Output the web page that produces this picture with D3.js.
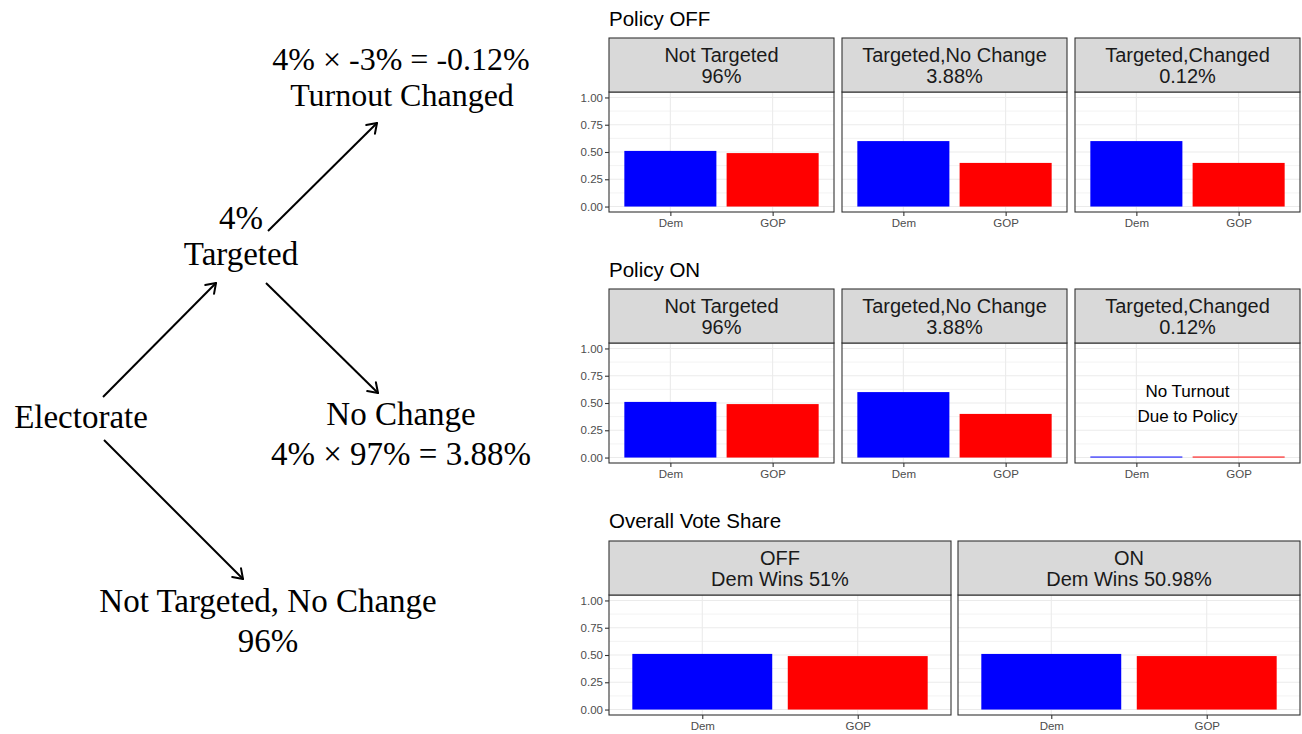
<!DOCTYPE html>
<html>
<head>
<meta charset="utf-8">
<title>Turnout targeting and vote share</title>
<script src="https://cdn.jsdelivr.net/npm/d3@7/dist/d3.min.js"></script>
<style>
  body { margin: 0; background: #fff; }
  .tree text { font-family: "Liberation Serif", "DejaVu Serif", serif; font-size: 33px; fill: #000; }
  .facet text { font-family: "Liberation Sans", Arial, sans-serif; }
</style>
</head>
<body>
<script>
// ---- data ----
var parties = ["Dem", "GOP"];
var partyColors = ["#0000FF", "#FF0000"];
var yTicks = [0, 0.25, 0.5, 0.75, 1];
var yMinor = [0.125, 0.375, 0.625, 0.875];

var groupNames = ["Not Targeted", "Targeted,No Change", "Targeted,Changed"];
var groupShares = ["96%", "3.88%", "0.12%"];

var offDem = [0.51, 0.60, 0.60];
var offGop = [0.49, 0.40, 0.40];

var onDem = [0.51, 0.60, 0];
var onGop = [0.49, 0.40, 0];

var overallNames = ["OFF", "ON"];
var overallWins = ["Dem Wins 51%", "Dem Wins 50.98%"];
var overallDem = [0.51, 0.5098];
var overallGop = [0.49, 0.4902];

// ---- page ----
var W = 1302, H = 734;
var svg = d3.select("body").append("svg")
  .attr("width", W).attr("height", H);
svg.append("rect").attr("width", W).attr("height", H).attr("fill", "#fff");

// ---- left: tree diagram ----
var tree = svg.append("g").attr("class", "tree");

function label(x, y, s, fs) {
  var t = tree.append("text").attr("x", x).attr("y", y)
    .attr("text-anchor", "middle").text(s);
  if (fs) t.style("font-size", fs + "px");
}
label(401, 70, "4% \u00D7 -3% = -0.12%", 32);
label(402, 106, "Turnout Changed", 32);
label(241, 229, "4%");
label(241, 265, "Targeted");
label(81, 428, "Electorate");
label(401, 425, "No Change");
label(401, 465, "4% \u00D7 97% = 3.88%");
label(268, 612, "Not Targeted, No Change");
label(268, 652, "96%");

function arrow(x1, y1, x2, y2) {
  tree.append("line")
    .attr("x1", x1).attr("y1", y1).attr("x2", x2).attr("y2", y2)
    .attr("stroke", "#000").attr("stroke-width", 2);
  var a = Math.atan2(y2 - y1, x2 - x1);
  var len = 11, spread = 0.6;
  [a + Math.PI - spread, a + Math.PI + spread].forEach(function (b) {
    tree.append("line")
      .attr("x1", x2).attr("y1", y2)
      .attr("x2", x2 + len * Math.cos(b)).attr("y2", y2 + len * Math.sin(b))
      .attr("stroke", "#000").attr("stroke-width", 2)
      .attr("stroke-linecap", "round");
  });
}
arrow(103, 397, 216, 283);
arrow(268, 231, 377, 123);
arrow(266, 283, 378, 393);
arrow(104, 440, 243, 579);

// ---- right: facets ----
var facet = svg.append("g").attr("class", "facet");

var stripH = 54, plotH = 120;

function drawPanel(x0, top, w, lines, dem, gop, showY, note) {
  var g = facet.append("g").attr("transform", "translate(" + x0 + "," + top + ")");
  var py = stripH;   // plot top

  var x = d3.scalePoint().domain(parties).range([0, w]).padding(0.6);
  var y = d3.scaleLinear().domain([-0.05, 1.05]).range([py + plotH, py]);
  var bw = x.step() * 0.9;

  // grid
  g.selectAll(".minor").data(yMinor).enter().append("line")
    .attr("x1", 0).attr("x2", w)
    .attr("y1", function (d) { return y(d); }).attr("y2", function (d) { return y(d); })
    .attr("stroke", "#EBEBEB").attr("stroke-width", 0.6);
  g.selectAll(".major").data(yTicks).enter().append("line")
    .attr("x1", 0).attr("x2", w)
    .attr("y1", function (d) { return y(d); }).attr("y2", function (d) { return y(d); })
    .attr("stroke", "#EBEBEB").attr("stroke-width", 1.1);
  g.selectAll(".vgrid").data(parties).enter().append("line")
    .attr("x1", function (d) { return x(d); }).attr("x2", function (d) { return x(d); })
    .attr("y1", py).attr("y2", py + plotH)
    .attr("stroke", "#EBEBEB").attr("stroke-width", 1.1);

  // bars
  var vals = [dem, gop];
  g.selectAll(".bar").data(parties).enter().append("rect")
    .attr("x", function (d) { return x(d) - bw / 2; })
    .attr("width", bw)
    .attr("y", function (d, i) { return Math.min(y(vals[i]), y(0) - 1); })
    .attr("height", function (d, i) { return Math.max(y(0) - y(vals[i]), 1); })
    .attr("fill", function (d, i) { return partyColors[i]; });

  if (note) {
    note.forEach(function (s, i) {
      g.append("text").attr("x", w / 2).attr("y", y(0.5) - 6 + i * 25)
        .attr("text-anchor", "middle").attr("font-size", 17).attr("fill", "#000")
        .text(s);
    });
  }

  // panel border
  g.append("rect").attr("x", 0).attr("y", py).attr("width", w).attr("height", plotH)
    .attr("fill", "none").attr("stroke", "#333333").attr("stroke-width", 1.1);

  // strip
  g.append("rect").attr("x", 0).attr("y", 0).attr("width", w).attr("height", stripH)
    .attr("fill", "#D9D9D9").attr("stroke", "#333333").attr("stroke-width", 1.1);
  lines.forEach(function (s, i) {
    g.append("text").attr("x", w / 2).attr("y", 24 + i * 21)
      .attr("text-anchor", "middle").attr("font-size", 20).attr("fill", "#1A1A1A")
      .text(s);
  });

  // axes
  if (showY) {
    var ya = d3.axisLeft(y).tickValues(yTicks).tickFormat(d3.format(".2f")).tickSize(4).tickPadding(2);
    var gy = g.append("g").call(ya);
    gy.select(".domain").remove();
    gy.selectAll("line").attr("stroke", "#333333").attr("stroke-width", 1.1);
    gy.selectAll("text").attr("fill", "#4D4D4D").attr("font-size", 11.5)
      .attr("font-family", "Liberation Sans, Arial, sans-serif");
  }

  var xa = d3.axisBottom(x).tickSize(4).tickPadding(3);
  var gx = g.append("g").attr("transform", "translate(0," + (py + plotH) + ")").call(xa);
  gx.select(".domain").remove();
  gx.selectAll("line").attr("stroke", "#333333").attr("stroke-width", 1.1);
  gx.selectAll("text").attr("fill", "#4D4D4D").attr("font-size", 11.5)
    .attr("font-family", "Liberation Sans, Arial, sans-serif");
}

function title(y, s) {
  facet.append("text").attr("x", 609).attr("y", y)
    .attr("font-size", 20.5).attr("fill", "#000").text(s);
}

var smallX = [609, 842, 1075], smallW = 225;

title(26, "Policy OFF");
groupNames.forEach(function (n, i) {
  drawPanel(smallX[i], 38, smallW, [n, groupShares[i]], offDem[i], offGop[i], i === 0);
});

title(277, "Policy ON");
groupNames.forEach(function (n, i) {
  var note = (onDem[i] === 0 && onGop[i] === 0) ? ["No Turnout", "Due to Policy"] : null;
  drawPanel(smallX[i], 289, smallW, [n, groupShares[i]], onDem[i], onGop[i], i === 0, note);
});

title(528, "Overall Vote Share");
var bigX = [609, 958], bigW = 342;
overallNames.forEach(function (n, i) {
  drawPanel(bigX[i], 541, bigW, [n, overallWins[i]], overallDem[i], overallGop[i], i === 0);
});
</script>
</body>
</html>
